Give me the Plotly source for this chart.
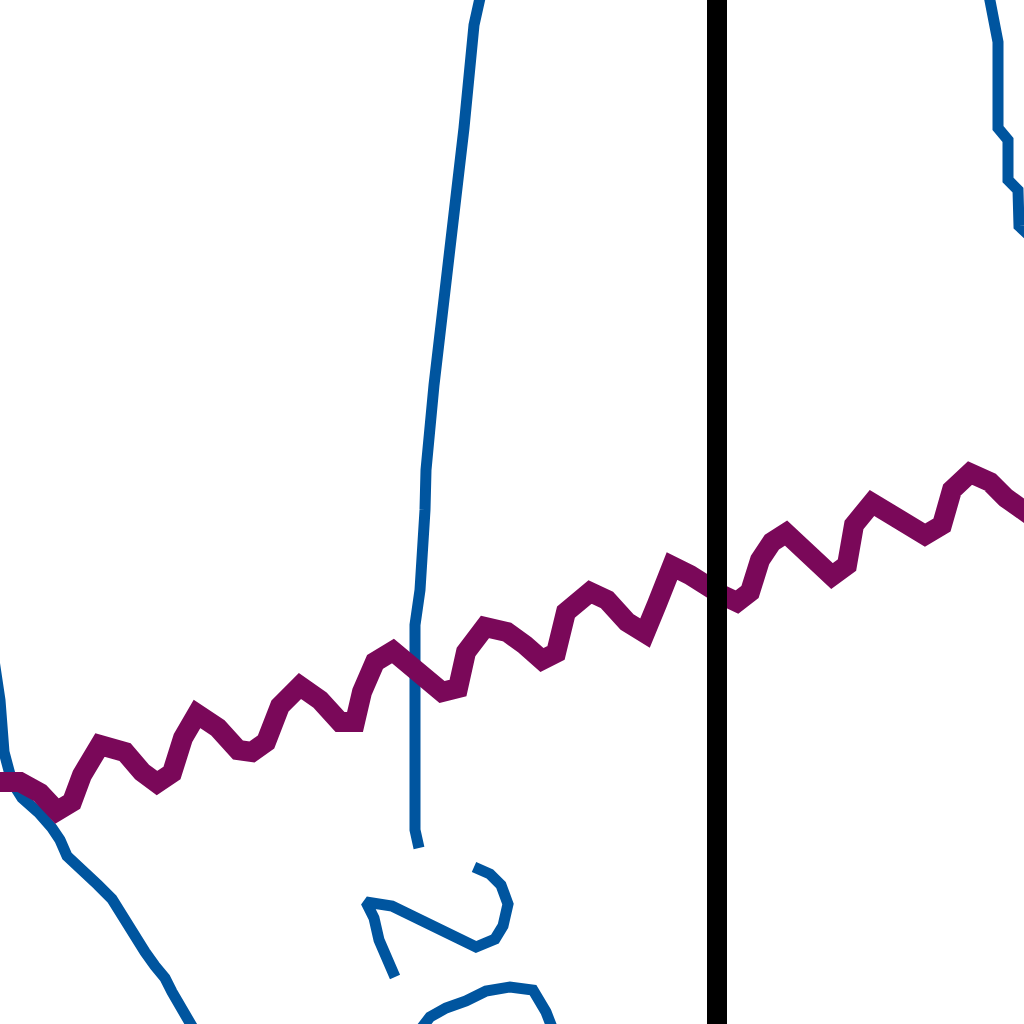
import plotly.graph_objects as go

# ---- data (in chart units; y grows downward) ----
blue_a_x = [-6, 0, 4, 12, 22, 38, 52, 60, 67, 82, 98, 112, 119, 128, 137, 145, 155, 165, 172, 180, 190, 200]
blue_a_y = [660, 700, 752, 782, 798, 812, 828, 840, 856, 869, 885, 899, 911, 925, 940, 952, 966, 978, 992, 1006, 1022, 1040]

blue_b_x = [419, 415, 415, 420, 425, 426, 434, 444, 454, 464, 474, 484]
blue_b_y = [848, 830, 625, 590, 510, 470, 385, 305, 222, 128, 25, -20]

blue_c_x = [395, 386, 379, 374, 366, 392, 414, 440, 460, 476, 495, 503, 508, 501, 490, 474]
blue_c_y = [977, 958, 940, 918, 902, 906, 916, 928, 938, 947, 939, 926, 904, 885, 874, 867]

blue_d_x = [420, 430, 446, 466, 486, 510, 533, 540, 546, 553]
blue_d_y = [1030, 1017, 1008, 1001, 991, 987, 990, 1000, 1012, 1030]

blue_e_x = [986, 992, 998, 998, 1008, 1008, 1018, 1019, 1034]
blue_e_y = [-20, 20, 42, 128, 140, 180, 190, 226, 240]

purple_x = [0, 20, 40, 57, 72, 82, 100, 125, 142, 157, 172, 183, 197, 218, 238, 252, 266, 280,
            300, 320, 340, 355, 362, 375, 393, 407, 423, 442, 458, 466, 485, 507, 525, 542, 556,
            566, 590, 607, 627, 645, 657, 672, 690, 706, 720, 737, 750, 760, 772, 786, 802, 817,
            832, 847, 854, 872, 892, 907, 925, 942, 952, 970, 990, 1006, 1020, 1030]
purple_y = [782, 782, 793, 811, 802, 775, 745, 752, 772, 783, 773, 738, 714, 728, 750, 752,
            742, 706, 686, 700, 722, 722, 692, 662, 651, 662, 680, 692, 688, 652, 627, 632, 645,
            660, 653, 612, 592, 600, 622, 633, 604, 566, 575, 588, 594, 602, 592, 560, 542, 533,
            548, 568, 576, 565, 525, 503, 515, 528, 535, 525, 490, 473, 482, 498, 510, 515]

marker_x = [717]

blue = "#00559f"
purple = "#7a0859"

fig = go.Figure()
for xs, ys in [(blue_a_x, blue_a_y), (blue_b_x, blue_b_y), (blue_c_x, blue_c_y),
               (blue_d_x, blue_d_y), (blue_e_x, blue_e_y)]:
    fig.add_trace(go.Scatter(x=xs, y=ys, mode="lines",
                             line=dict(color=blue, width=11),
                             hoverinfo="skip", showlegend=False))

fig.add_trace(go.Scatter(x=purple_x, y=purple_y, mode="lines",
                         line=dict(color=purple, width=20),
                         hoverinfo="skip", showlegend=False))

for mx in marker_x:
    fig.add_vline(x=mx, line=dict(color="#000000", width=20), layer="above")

fig.update_layout(
    width=1024, height=1024,
    margin=dict(l=0, r=0, t=0, b=0),
    paper_bgcolor="white", plot_bgcolor="white",
    xaxis=dict(range=[0, 1024], visible=False, fixedrange=True),
    yaxis=dict(range=[1024, 0], visible=False, fixedrange=True),
    showlegend=False,
)

fig.write_html("out.html", config={"displayModeBar": False, "staticPlot": True},
               post_script="document.body.style.margin='0';")
